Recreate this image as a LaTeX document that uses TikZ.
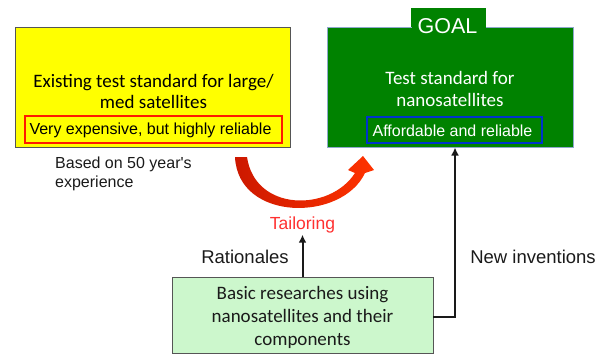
\documentclass[tikz,border=0pt]{standalone}
\usepackage{fontspec}
\setmainfont{Carlito}
\newfontfamily\calfont{Carlito}
\newfontfamily\arialfont{Liberation Sans}
\usetikzlibrary{arrows.meta}

\definecolor{boxyellow}{HTML}{FFFF00}
\definecolor{boxgreen}{HTML}{008200}
\definecolor{paleGreen}{HTML}{CCF7CC}
\definecolor{frameGray}{HTML}{555555}
\definecolor{frameBlueGray}{HTML}{8EA8CC}
\definecolor{innerRed}{HTML}{FF1A00}
\definecolor{innerBlue}{HTML}{0033CC}
\definecolor{arcDark}{HTML}{CC1800}
\definecolor{arcLight}{HTML}{FF3300}
\definecolor{tailRed}{HTML}{FF3030}
\definecolor{ink}{HTML}{1A1A1A}

\tikzset{
  mainbox/.style={rectangle, inner sep=0pt, line width=0.8pt},
  tagbox/.style={rectangle, inner sep=0pt, line width=1.6pt},
  calibri/.style={font=\calfont\fontsize{19}{21}\selectfont, align=center, inner sep=0pt},
  arial/.style={font=\arialfont\fontsize{16}{19}\selectfont, inner sep=0pt},
  label/.style={font=\arialfont\fontsize{18.5}{21}\selectfont, text=ink, inner sep=0pt},
  link/.style={line width=2pt, ink, -{Latex[length=8pt,width=8pt]}}
}

\begin{document}
\begin{tikzpicture}[x=1pt,y=-1pt]
\useasboundingbox (0,0) rectangle (606,354);

% existing standard (yellow)
\node[mainbox, draw=frameGray, fill=boxyellow, minimum width=275pt, minimum height=120pt]
  (old) at (152.5,87) {};
\node[calibri, text=black] (oldtxt) at (153.5,91.5) {Existing test standard for large/\\med satellites};
\node[tagbox, draw=innerRed, minimum width=257pt, minimum height=27pt] (oldtag) at (153.5,129.5) {};
\node[arial, text=black] (oldtagtxt) at (150.5,130) {Very expensive, but highly reliable};

\node[arial, align=left, font=\arialfont\fontsize{16}{18.5}\selectfont, anchor=west, text=ink]
  (based) at (55,174) {Based on 50 year's\\experience};

% goal (green)
\node[mainbox, fill=boxgreen, minimum width=75pt, minimum height=22pt] (goaltab) at (448.5,19) {};
\node[mainbox, draw=frameBlueGray, fill=boxgreen, minimum width=246pt, minimum height=120pt]
  (goal) at (450,87) {};
\fill[boxgreen] (411.5,26) rectangle (485.5,28.5);
\node[font=\arialfont\fontsize{21.5}{24}\selectfont, text=white, inner sep=0pt] (goaltxt) at (447.5,26) {GOAL};
\node[calibri, text=white, font=\calfont\fontsize{19}{22}\selectfont] (goaltxt2) at (450,89) {Test standard for\\nanosatellites};
\node[tagbox, draw=innerBlue, minimum width=175pt, minimum height=26pt] (goaltag) at (454.5,130) {};
\node[arial, text=white] (goaltagtxt) at (452.5,130.5) {Affordable and reliable};

% tailoring arc
\shade[left color=arcDark, right color=arcLight]
  (235,157) .. controls (238,222) and (342,222) .. (365,173)
  -- (374,170) -- (363,156) -- (348,170) -- (355,173)
  .. controls (330,212) and (255,212) .. (247,157) -- cycle;

\node[font=\arialfont\fontsize{17.5}{20}\selectfont, text=tailRed, inner sep=0pt, minimum height=18pt]
  (tail) at (302.5,225) {Tailoring};

% basic research (pale green)
\node[mainbox, draw=frameGray, fill=paleGreen, minimum width=261pt, minimum height=76pt]
  (basic) at (302.5,315) {};
\node[calibri, text=ink, font=\calfont\fontsize{19}{23}\selectfont] (basictxt) at (302.5,317.5)
  {Basic researches using\\nanosatellites and their\\components};

% connectors
\draw[link] (basic.north) -- ([yshift=-0.5pt]tail.south);
\node[label] (rat) at (245,257) {Rationales};

\coordinate (goalin) at (455,147.5);
\draw[link, rounded corners=0pt] ([yshift=-2pt]basic.east) -| (goalin);
\node[label] (newinv) at (533,257) {New inventions};
\end{tikzpicture}
\end{document}
